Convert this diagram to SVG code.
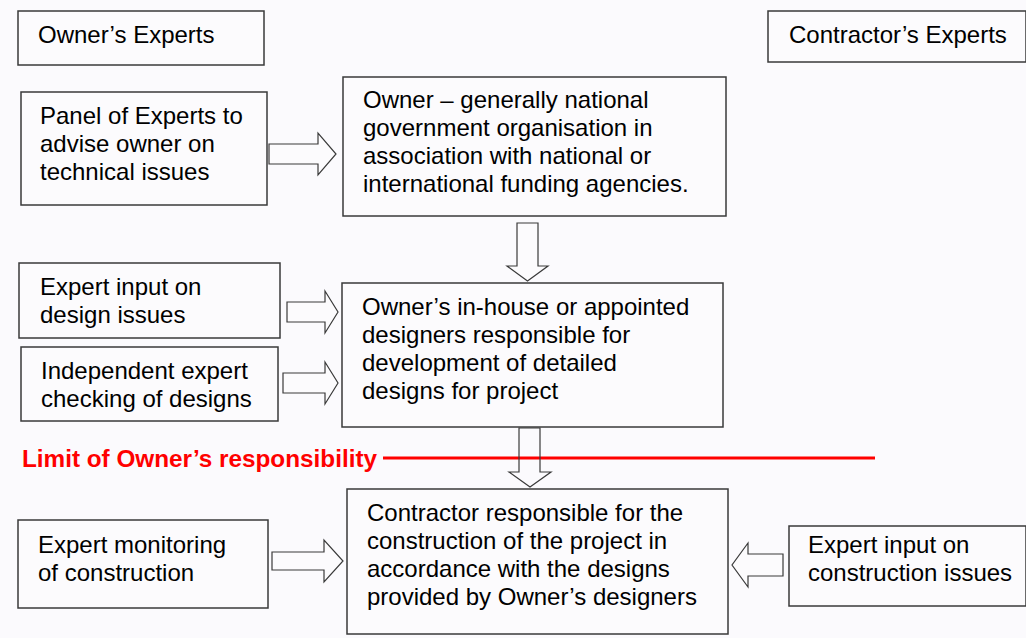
<svg xmlns="http://www.w3.org/2000/svg" width="1026" height="638" viewBox="0 0 1026 638">
<style>
.box{fill:#fcfbfd;stroke:#3a3a3a;stroke-width:1.5}
.arr{fill:#fcfbfd;stroke:#3a3a3a;stroke-width:1.2;stroke-linejoin:miter}
.t{font-family:"Liberation Sans",Arial,sans-serif;font-size:24px;fill:#000}
.lim{font-family:"Liberation Sans",Arial,sans-serif;font-size:24px;font-weight:bold;fill:#ff0000}
</style>
<rect x="0" y="0" width="1026" height="638" fill="#fbfafd"/>
<g id="connectors">
<polygon class="arr" points="269,144 318,144 318,133 336,154 318,175 318,164 269,164"/>
<polygon class="arr" points="517,223 538,223 538,266 548,266 527.5,281 507,266 517,266"/>
<polygon class="arr" points="287,302 325,302 325,291 338,312 325,333 325,322 287,322"/>
<polygon class="arr" points="283,373 325,373 325,362 338,383 325,404 325,393 283,393"/>
<line x1="383" y1="458" x2="875" y2="458" stroke="#ff0000" stroke-width="3"/>
<polygon class="arr" style="fill:none" points="519,428 540,428 540,472 551,472 530,487 509,472 519,472"/>
<polygon class="arr" points="272,552 324,552 324,540 343,561 324,582 324,570 272,570"/>
<polygon class="arr" points="783,554 748,554 748,543 732,565 748,587 748,576 783,576"/>
</g>
<g id="owners-experts">
<rect class="box" x="18" y="11" width="246" height="54"/>
<text class="t" x="38" y="43">Owner’s Experts</text>
</g>
<g id="contractors-experts">
<rect class="box" x="768" y="11" width="258" height="51"/>
<text class="t" x="789" y="43">Contractor’s Experts</text>
</g>
<g id="panel">
<rect class="box" x="21" y="92" width="246" height="113"/>
<text class="t" x="40" y="124">Panel of Experts to</text>
<text class="t" x="40" y="152">advise owner on</text>
<text class="t" x="40" y="180">technical issues</text>
</g>
<g id="owner">
<rect class="box" x="343" y="77" width="383" height="139"/>
<text class="t" x="363" y="108">Owner – generally national</text>
<text class="t" x="363" y="136">government organisation in</text>
<text class="t" x="363" y="164">association with national or</text>
<text class="t" x="363" y="192">international funding agencies.</text>
</g>
<g id="design-input">
<rect class="box" x="19" y="263" width="261" height="75"/>
<text class="t" x="40" y="295">Expert input on</text>
<text class="t" x="40" y="323">design issues</text>
</g>
<g id="independent">
<rect class="box" x="21" y="347" width="257" height="74"/>
<text class="t" x="41" y="379">Independent expert</text>
<text class="t" x="41" y="407">checking of designs</text>
</g>
<g id="designers">
<rect class="box" x="342" y="283" width="381" height="144"/>
<text class="t" x="362" y="315">Owner’s in-house or appointed</text>
<text class="t" x="362" y="343">designers responsible for</text>
<text class="t" x="362" y="371">development of detailed</text>
<text class="t" x="362" y="399">designs for project</text>
</g>
<g id="limit-label">
<text class="lim" x="22" y="467" textLength="355" lengthAdjust="spacingAndGlyphs">Limit of Owner’s responsibility</text>
</g>
<g id="monitoring">
<rect class="box" x="18" y="520" width="250" height="88"/>
<text class="t" x="38" y="553">Expert monitoring</text>
<text class="t" x="38" y="581">of construction</text>
</g>
<g id="contractor">
<rect class="box" x="347" y="489" width="381" height="145"/>
<text class="t" x="367" y="521">Contractor responsible for the</text>
<text class="t" x="367" y="549">construction of the project in</text>
<text class="t" x="367" y="577">accordance with the designs</text>
<text class="t" x="367" y="605">provided by Owner’s designers</text>
</g>
<g id="construction-input">
<rect class="box" x="789" y="526" width="237" height="80"/>
<text class="t" x="808" y="553">Expert input on</text>
<text class="t" x="808" y="581">construction issues</text>
</g>
</svg>
